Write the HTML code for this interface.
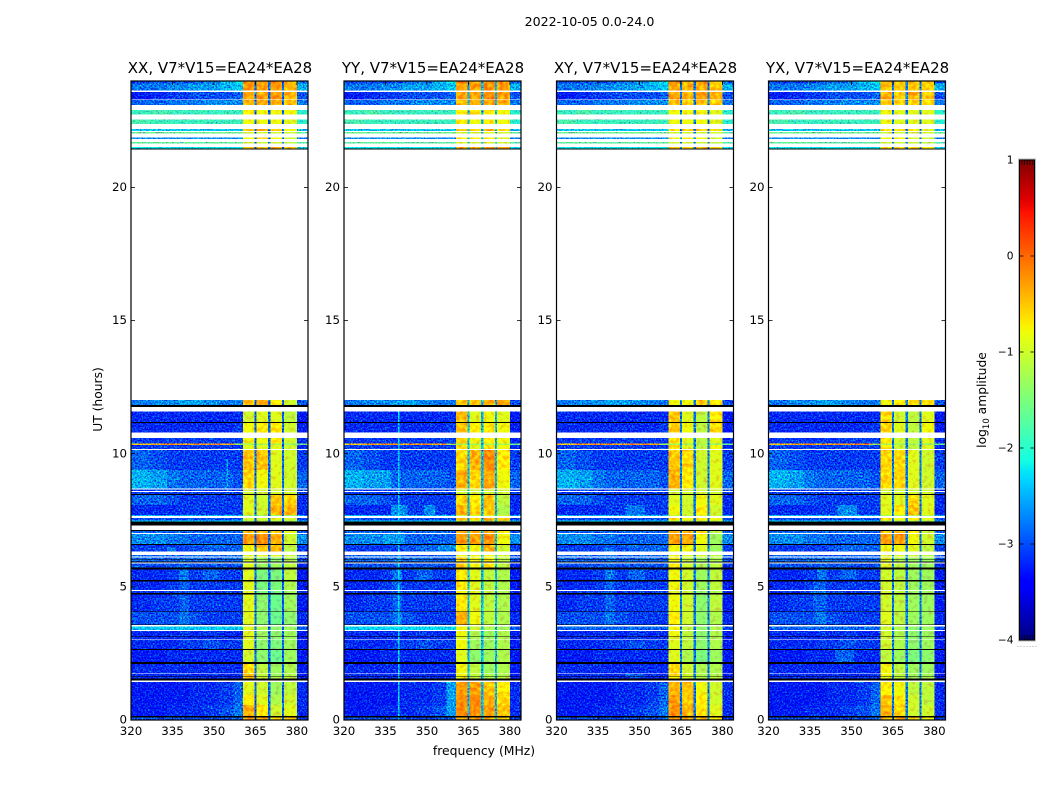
<!DOCTYPE html>
<html>
<head>
<meta charset="utf-8">
<title>2022-10-05 0.0-24.0</title>
<style>
html,body{margin:0;padding:0;background:#fff;}
svg{display:block;}
text{font-family:"DejaVu Sans","Liberation Sans",sans-serif;fill:#000;}
</style>
</head>
<body>
<svg id="figure" xmlns="http://www.w3.org/2000/svg" width="1050" height="800" viewBox="0 0 1050 800">
  <defs>
    <filter id="speckle" x="0" y="0" width="1" height="1" color-interpolation-filters="sRGB">
      <feTurbulence type="fractalNoise" baseFrequency="0.62" numOctaves="2" seed="7" result="raw"/>
      <feColorMatrix in="raw" type="matrix" values="0 0 0 0 0.5  1 0 0 0 0  0 0.6 0 0 0.2  0 0 0 0 1" result="noise"/>
      <feComposite in="SourceGraphic" in2="noise" operator="arithmetic" k1="0" k2="1" k3="1.7" k4="-0.85" result="mix"/>
      <feComposite in="mix" in2="SourceAlpha" operator="in"/>
    </filter>
    <filter id="speckle-soft" x="0" y="0" width="1" height="1" color-interpolation-filters="sRGB">
      <feTurbulence type="fractalNoise" baseFrequency="0.25" numOctaves="2" seed="11" result="raw"/>
      <feColorMatrix in="raw" type="matrix" values="0 0 0 0 0.5  1 0 0 0 0  0 0 0 0 0.5  0 0 0 0 1" result="noise"/>
      <feComposite in="SourceGraphic" in2="noise" operator="arithmetic" k1="0" k2="1" k3="0.7" k4="-0.35" result="mix"/>
      <feComposite in="mix" in2="SourceAlpha" operator="in"/>
    </filter>
    <linearGradient id="jet-gradient" x1="0" y1="1" x2="0" y2="0"></linearGradient>
  </defs>
  <text x="589.5" y="26" font-size="12.6" text-anchor="middle">2022-10-05 0.0-24.0</text>
  <text transform="translate(102 399.5) rotate(-90)" font-size="12.3" text-anchor="middle">UT (hours)</text>
  <text x="484" y="755" font-size="12.4" text-anchor="middle">frequency (MHz)</text>
  <text transform="translate(986 400) rotate(-90)" font-size="12.3" text-anchor="middle">log<tspan font-size="8.5" dy="3">10</tspan><tspan dy="-3"> amplitude</tspan></text>
  <g id="panels"></g>
  <g id="colorbar"></g>
</svg>
<script>
// ---- chart data -----------------------------------------------------------
const panelTitles = ['XX, V7*V15=EA24*EA28','YY, V7*V15=EA24*EA28','XY, V7*V15=EA24*EA28','YX, V7*V15=EA24*EA28'];
const xTicks = [320,335,350,365,380];
const yTicks = [0,5,10,15,20];
const colorTicks = [-4,-3,-2,-1,0,1];
const colorLabels = ['\u22124','\u22123','\u22122','\u22121','0','1'];

// time-row edges in hours (top to bottom); states: d = data, w = no data (white), b = flagged zero (black)
const rowEdges = [24,23.91,23.64,23.59,23.31,23.28,23.10,22.91,22.75,22.56,22.39,22.20,22.13,22.08,22.03,21.87,21.83,21.71,21.66,21.53,21.46,21.43,
 12.02,11.83,11.76,11.59,11.19,11.16,10.79,10.59,10.39,10.33,10.18,10.14,9.39,8.70,8.65,8.61,8.56,8.49,8.45,8.08,7.70,7.66,7.59,7.49,7.45,7.31,7.14,
 7.09,7.02,6.99,6.61,6.57,6.32,6.19,6.15,6.11,6.05,6.02,5.95,5.91,5.87,5.72,5.66,5.26,5.21,4.88,4.85,4.77,4.72,4.08,4.06,3.59,3.56,3.52,3.38,3.34,3.14,3.12,3.05,3.02,
 2.66,2.63,2.17,2.10,1.75,1.72,1.66,1.63,1.55,1.49,1.43,0.94,0.56,0.15,0.10,0];
const rowStates = ['d','d','w','d','w','d','w','d','w','d','w','d','w','d','w','d','w','d','w','d','b','w',
 'd','b','w','d','b','d','w','d','d','d','w','d','d','w','d','w','d','b','d','d','d','w','d','d','b','w','b',
 'd','w','d','b','d','w','d','w','d','b','d','b','w','d','b','d','b','d','w','d','b','d','b','d','b','w','d','w','d','b','d','w','d',
 'b','d','b','d','w','d','b','d','b','w','d','d','d','b','d'];

// off-band frequency columns (MHz edges) then the one column above the receiver bands
const lowEdges = [320,327,333,337.5,341,346,352,357,360.5];
const tailEdges = [380,384];
const bandEdges = [[360.5,364.6],[365.4,369.6],[370.4,374.6],[375.4,380]];
const gapEdges = [[364.6,365.4],[369.6,370.4],[374.6,375.4]];
const gapLevels = [-2.9,-2.5,-2.8,-2.8];

// log10 amplitude per data row, shared off-band structure
const lowLevels = [
[-3.1,-3.0,-3.0,-3.0,-2.9,-2.8,-2.5,-2.2,-2.9],[-2.8,-2.8,-2.7,-2.7,-2.6,-2.6,-2.5,-2.4,-2.5],[-3.3,-3.2,-3.1,-3.1,-3.0,-3.0,-3.0,-2.9,-3.0],
[-2.9,-2.9,-2.8,-2.8,-2.8,-2.7,-2.7,-2.7,-2.8],[-1.9,-1.8,-1.9,-1.9,-1.9,-1.9,-1.9,-1.9,-2.0],[-1.8,-1.9,-1.9,-1.9,-1.9,-1.9,-1.9,-1.9,-2.0],
[-2.4,-2.4,-2.4,-2.4,-2.4,-2.4,-2.4,-2.4,-2.5],[-1.6,-1.6,-1.6,-1.6,-1.6,-1.6,-1.6,-1.6,-1.7],[-2.7,-2.7,-2.7,-2.7,-2.7,-2.7,-2.7,-2.7,-2.8],
[-1.7,-1.7,-1.7,-1.7,-1.7,-1.7,-1.7,-1.7,-1.8],[-2.2,-2.2,-2.2,-2.2,-2.2,-2.2,-2.2,-2.2,-2.3],[-2.8,-2.7,-2.7,-2.6,-2.6,-2.7,-2.8,-2.8,-3.0],
[-3.2,-3.2,-3.2,-3.2,-3.2,-3.2,-3.2,-3.2,-3.3],[-3.2,-3.2,-3.2,-3.2,-3.2,-3.2,-3.2,-3.1,-3.3],[-3.1,-3.1,-3.1,-3.1,-3.1,-3.1,-3.1,-3.1,-3.2],
[-0.5,-0.3,-0.2,-0.3,-0.3,-0.2,-0.3,-1.3,-1.6],[-3.1,-3.1,-3.1,-3.1,-3.1,-3.1,-3.1,-3.1,-3.2],[-2.9,-3.0,-3.1,-3.1,-3.1,-3.1,-3.1,-3.1,-3.1],
[-2.5,-2.6,-2.8,-2.9,-2.9,-2.9,-2.9,-3.0,-2.9],[-3.1,-3.1,-3.1,-3.1,-3.1,-3.1,-3.1,-3.1,-3.1],[-3.1,-3.1,-3.1,-3.1,-3.1,-3.1,-3.1,-3.1,-3.1],
[-2.9,-2.9,-3.0,-3.1,-3.1,-3.1,-3.1,-3.1,-3.2],[-3.2,-3.2,-3.2,-3.1,-3.1,-3.1,-3.1,-3.1,-3.2],[-2.5,-2.5,-2.5,-2.5,-2.5,-2.5,-2.5,-2.5,-2.6],
[-3.0,-3.0,-3.0,-3.0,-3.0,-3.0,-3.0,-3.0,-3.1],[-2.3,-2.3,-2.3,-2.3,-2.3,-2.3,-2.3,-2.3,-2.4],[-2.9,-2.9,-2.9,-2.9,-2.9,-2.9,-2.9,-2.9,-3.0],
[-2.7,-2.7,-2.8,-2.8,-2.9,-2.9,-2.9,-2.9,-2.7],[-3.1,-3.1,-3.1,-3.1,-3.0,-2.9,-2.9,-2.9,-3.1],[-2.9,-2.9,-2.9,-2.9,-2.9,-2.9,-2.9,-2.9,-3.0],
[-2.9,-2.9,-2.9,-2.9,-2.9,-2.9,-2.9,-2.9,-3.0],[-2.9,-2.9,-2.9,-2.8,-2.9,-2.9,-2.9,-2.9,-3.0],[-3.0,-3.0,-3.0,-2.9,-3.0,-3.0,-3.0,-3.0,-3.2],
[-3.2,-3.2,-3.1,-2.8,-3.1,-2.9,-3.1,-3.1,-3.3],[-3.2,-3.2,-3.1,-2.9,-3.1,-3.1,-3.1,-3.1,-3.3],[-3.1,-3.1,-3.1,-3.0,-3.1,-3.1,-3.1,-3.1,-3.2],
[-3.2,-3.1,-3.1,-2.9,-3.1,-3.1,-3.1,-3.1,-3.3],[-3.0,-3.0,-3.0,-2.8,-3.0,-3.1,-3.1,-3.1,-3.2],[-2.9,-2.9,-2.9,-2.9,-2.9,-2.9,-2.9,-2.9,-3.0],
[-3.2,-3.2,-3.2,-3.1,-3.2,-3.1,-3.2,-3.2,-3.3],[-3.2,-3.2,-3.2,-3.2,-3.2,-3.2,-3.2,-3.2,-3.3],[-3.2,-3.2,-3.2,-3.1,-3.1,-3.0,-3.1,-3.1,-3.3],
[-3.3,-3.3,-3.2,-3.2,-3.2,-3.2,-3.2,-3.2,-3.3],[-3.2,-3.2,-3.2,-3.2,-3.2,-3.2,-3.2,-3.2,-3.3],[-3.2,-3.2,-3.2,-3.2,-3.2,-3.2,-3.2,-3.2,-3.3],
[-3.2,-3.2,-3.2,-3.2,-3.2,-3.2,-3.2,-3.2,-3.3],[-3.3,-3.3,-3.3,-3.3,-3.2,-3.2,-3.1,-2.9,-3.2],[-3.3,-3.3,-3.3,-3.3,-3.2,-3.2,-3.1,-2.9,-3.2],
[-3.3,-3.3,-3.2,-3.2,-3.2,-3.1,-3.0,-2.8,-3.2],[-3.0,-3.0,-3.0,-3.0,-3.0,-3.0,-3.0,-2.9,-3.1]];

// log10 amplitude per data row, one value per receiver band
const bandXX = [
[-.1,-.4,-.2,-.4],[-.3,-.3,-.3,-.4],[-.3,-.3,-.3,-.4],[-.4,-.4,-.4,-.5],[-.7,-.8,-.8,-.8],[-.8,-.8,-.8,-.9],[-.5,-.4,-.6,-.8],[-1,-1,-1,-1],[-.8,-.7,-.8,-1],[-1,-1,-1,-1.1],
[-.5,-.5,-.4,-.5],[-.5,-.3,-.7,-1],[-1,-.9,-.9,-1.1],[-.8,-.7,-.7,-1],[-.8,-.8,-.7,-1],[-1.3,-1.3,-1.2,-1.4],[-.9,-.9,-.9,-1],[-.5,-.5,-.9,-1],[-.6,-.8,-.9,-1],[-1,-1,-1,-1],
[-1,-1,-1,-1],[-.9,-1,-.5,-.6],[-.9,-1,-.4,-.4],[-1.3,-1.3,-1.3,-1.3],[-1,-1,-.9,-1],[-1.3,-1.3,-1.3,-1.3],[-.4,-.5,-.5,-.9],[-.3,-.2,-.4,-1],[-.8,-.5,-.4,-1.1],[-.9,-.9,-.9,-1],
[-1,-1.3,-1.4,-1.2],[-1,-1.3,-1.4,-1.2],[-.9,-1.3,-1.3,-1.1],[-.9,-1.5,-1.5,-1.1],[-.9,-1.5,-1.5,-1.2],[-.9,-1.5,-1.6,-1.3],[-.9,-1.4,-1.6,-1.3],[-.9,-1.4,-1.6,-1.4],[-.9,-1.2,-1.4,-1.3],[-.9,-1.3,-1.4,-1.3],
[-.9,-1.3,-1.4,-1.3],[-.9,-1.4,-1.5,-1.3],[-1,-1.4,-1.6,-1.3],[-.6,-1.1,-1.3,-1.2],[-.5,-1.1,-1.3,-1.2],[-.6,-1,-1.2,-1.1],[-.9,-1,-1.3,-1.1],[-.7,-.9,-1.2,-1],[-.4,-.7,-1,-.9],[-.3,-.4,-.6,-.5]];
const bandYY = [
[-.1,-.3,-.2,-.2],[-.3,-.3,-.2,-.3],[-.3,-.3,-.2,-.3],[-.4,-.4,-.3,-.4],[-.7,-.7,-.7,-.8],[-.7,-.8,-.7,-.8],[-.5,-.5,-.4,-.6],[-1,-1,-.9,-1],[-.7,-.7,-.7,-.9],[-.9,-1,-.9,-1],
[-.3,-.4,-.2,-.3],[-.5,-.5,-.4,-.3],[-.5,-.9,-.8,-.9],[-.5,-.7,-.7,-.8],[-.6,-.8,-.7,-.8],[-1.3,-1.3,-1.2,-1.3],[-.6,-.9,-.7,-.8],[-.6,-.4,-.2,-.7],[-.4,-.6,-.3,-.8],[-1,-1,-1,-1],
[-1,-1,-1,-1],[-.6,-.7,-.5,-1.1],[-.4,-.6,-.5,-1.2],[-1,-1,-.9,-1],[-.5,-.6,-.3,-.5],[-1.2,-1.2,-1.2,-1.2],[-.4,-.4,-.3,-.7],[-.3,-.3,-.2,-.8],[-.7,-.8,-.4,-1],[-.8,-.8,-.8,-1],
[-.6,-.8,-.7,-1.1],[-.6,-.8,-.7,-1.1],[-.5,-.8,-.7,-1.1],[-.7,-.9,-1.1,-1.2],[-.7,-.9,-1.1,-1.2],[-.8,-.9,-1.1,-1.2],[-.7,-.9,-1.1,-1.2],[-.4,-.8,-1.1,-1.2],[-.8,-1,-1.2,-1.3],[-.8,-1.2,-1.3,-1.2],
[-.9,-1.2,-1.3,-1.2],[-.8,-1.3,-1.3,-1.2],[-.9,-1.4,-1.3,-1.2],[-.8,-1.1,-1.3,-1.2],[-.8,-1.1,-1.2,-1.2],[-.8,-1.1,-1.2,-1.1],[-.3,-.3,-.5,-.7],[-.2,-.2,-.4,-.6],[-.2,-.2,-.3,-.5],[-.3,-.3,-.4,-.6]];
const bandXY = [
[-.1,-.5,-.2,-.5],[-.4,-.4,-.4,-.5],[-.3,-.4,-.3,-.4],[-.5,-.5,-.5,-.5],[-.8,-.8,-.8,-.9],[-.8,-.8,-.8,-.9],[-.6,-.5,-.6,-.8],[-1,-1,-1,-1],[-.8,-.8,-.8,-1],[-1,-1,-1,-1.1],
[-.5,-.6,-.5,-.6],[-.8,-.8,-.5,-.7],[-.5,-.9,-1.1,-.7],[-.5,-.8,-1.1,-.6],[-.7,-.9,-1.1,-.9],[-1.3,-1.3,-1.2,-1.4],[-.6,-.9,-1.1,-.8],[-.5,-.6,-1,-.9],[-.4,-.7,-1,-.9],[-1,-1,-1,-1],
[-1,-1,-1,-1],[-.9,-1,-.8,-.9],[-.8,-1,-.7,-1],[-1.1,-1.1,-1,-1.1],[-.6,-.8,-.7,-.8],[-1.2,-1.2,-1.2,-1.2],[-.4,-.5,-.6,-1.1],[-.3,-.3,-.8,-1.3],[-.8,-.8,-.9,-1.3],[-.8,-.9,-.9,-1.1],
[-.8,-1.1,-1.3,-1.2],[-.8,-1.1,-1.3,-1.2],[-.7,-1,-1.2,-1.1],[-.8,-1,-1.3,-1.1],[-.8,-1,-1.3,-1.1],[-.9,-1,-1.4,-1.2],[-.8,-1,-1.4,-1.1],[-.7,-1,-1.4,-1.2],[-.8,-1.1,-1.4,-1.2],[-.8,-1.1,-1.4,-1.2],
[-.9,-1.1,-1.4,-1.2],[-.9,-1.1,-1.4,-1.2],[-.9,-1.2,-1.5,-1.3],[-.6,-1,-1.2,-1.2],[-.6,-1,-1.2,-1.2],[-.7,-1,-1.2,-1.1],[-.4,-.5,-.8,-1],[-.3,-.5,-.7,-1],[-.2,-.4,-.7,-.9],[-.3,-.3,-.5,-.7]];
const bandYX = [
[-.4,-.6,-.4,-.5],[-.5,-.5,-.5,-.6],[-.4,-.5,-.4,-.5],[-.5,-.6,-.6,-.6],[-.8,-.9,-.9,-.9],[-.8,-.9,-.9,-.9],[-.6,-.6,-.7,-.9],[-1,-1,-1,-1],[-.8,-.8,-.9,-1],[-1,-1,-1,-1.1],
[-.6,-.6,-.6,-.7],[-.8,-.7,-.6,-.7],[-.6,-1,-1.1,-.9],[-.6,-.9,-1.1,-.8],[-.7,-1,-1.1,-.9],[-1.3,-1.3,-1.3,-1.4],[-.7,-1,-1.1,-.9],[-.6,-.6,-.9,-1],[-.6,-.6,-.9,-1],[-1,-1,-1,-1],
[-1,-1,-1,-1],[-.9,-.9,-.6,-.9],[-.9,-.7,-.5,-.9],[-1.2,-1.2,-1.2,-1.2],[-.7,-.8,-.7,-.9],[-1.3,-1.3,-1.3,-1.3],[-.5,-.5,-.7,-1],[-.3,-.3,-.8,-1],[-.8,-.8,-.9,-1.1],[-.9,-.9,-1,-1.1],
[-.9,-1.2,-1.3,-1.3],[-.9,-1.2,-1.3,-1.3],[-.9,-1.1,-1.3,-1.3],[-1,-1.1,-1.3,-1.3],[-1,-1.1,-1.3,-1.3],[-1,-1.1,-1.3,-1.3],[-1,-1.1,-1.3,-1.3],[-.9,-1.1,-1.3,-1.3],[-1,-1.2,-1.4,-1.3],[-1,-1.2,-1.4,-1.3],
[-1,-1.2,-1.4,-1.3],[-1,-1.2,-1.4,-1.3],[-1.1,-1.3,-1.5,-1.4],[-.8,-1.1,-1.3,-1.3],[-.8,-1.1,-1.3,-1.3],[-.9,-1.1,-1.3,-1.2],[-.7,-.8,-1.1,-1.1],[-.5,-.7,-1,-1.1],[-.4,-.6,-1,-1],[-.4,-.4,-.7,-.8]];
const bandLevels = [bandXX,bandYY,bandXY,bandYX];

// panel-specific off-band features: panel, freq from, freq to, hour top, hour bottom, level
const featurePanels = [1,1,1,1,1,1,2,3,3,0,1,0,1,3,3,2,0,2];
const featureFreqFrom = [337,349,357,339.6,328,334,345,345,336,354.5,354,320,320,337,344,345,333,337];
const featureFreqTo = [343,353,360.5,340.1,337,342,352,352,341,355,360.5,360.5,360.5,341,351,352,336,341];
const featureHourTop = [8.08,8.08,1.43,11.59,9.39,6.99,8.08,8.08,5.21,9.8,6.57,3.52,3.52,4.06,2.63,1.75,6.5,6.5];
const featureHourBottom = [7.70,7.70,0.15,0,8.70,6.61,7.70,7.70,4.08,8.5,6.32,3.38,3.38,3.59,2.17,1.6,6.32,6.32];
const featureLevels = [-2.7,-2.7,-2.6,-2.3,-2.6,-2.6,-2.8,-2.7,-2.9,-2.6,-2.7,-2.4,-2.3,-2.8,-2.9,-2.9,-2.8,-2.8];

// ---- scales ---------------------------------------------------------------
const panelLefts = [131,344,556.5,768.5];
const panelWidth = 177;
const plotTop = 81, plotBottom = 720;
const freqMin = 320, freqMax = 384, hourMax = 24, levelMin = -4, levelMax = 1;
function xScale(panel,f){return panelLefts[panel]+(f-freqMin)/(freqMax-freqMin)*panelWidth;}
function yScale(h){return plotBottom-h/hourMax*(plotBottom-plotTop);}
function colorY(v){return 640-(v-levelMin)/(levelMax-levelMin)*480;}
function lerpChannel(pts,t){
  if(t<=pts[0][0])return pts[0][1];
  for(let i=1;i<pts.length;i++){if(t<=pts[i][0]){const a=pts[i-1],b=pts[i];return a[1]+(b[1]-a[1])*(t-a[0])/(b[0]-a[0]);}}
  return pts[pts.length-1][1];
}
function jet(v){
  const t=Math.max(0,Math.min(1,(v-levelMin)/(levelMax-levelMin)));
  const r=lerpChannel([[0,0],[.35,0],[.66,1],[.89,1],[1,.5]],t);
  const g=lerpChannel([[0,0],[.125,0],[.375,1],[.64,1],[.91,0],[1,0]],t);
  const b=lerpChannel([[0,.5],[.11,1],[.34,1],[.65,0],[1,0]],t);
  return 'rgb('+Math.round(r*255)+','+Math.round(g*255)+','+Math.round(b*255)+')';
}
const NS='http://www.w3.org/2000/svg';
function add(parent,tag,attrs,txt){
  const el=document.createElementNS(NS,tag);
  for(const k in attrs)el.setAttribute(k,attrs[k]);
  if(txt!==undefined)el.textContent=txt;
  parent.appendChild(el);
  return el;
}
function cell(parent,panel,f0,f1,hTop,hBottom,level){
  const x0=xScale(panel,f0),x1=xScale(panel,f1),y0=yScale(hTop),y1=yScale(hBottom);
  const r=add(parent,'rect',{x:x0.toFixed(2),y:y0.toFixed(2),width:(x1-x0).toFixed(2),height:(y1-y0).toFixed(2),fill:jet(level),'shape-rendering':'crispEdges'});
  
  
  return r;
}

// ---- draw panels ----------------------------------------------------------
const panelsRoot=document.getElementById('panels');
panelTitles.forEach(function(title,p){
  const g=add(panelsRoot,'g',{});
  
  
  const left=panelLefts[p],right=left+panelWidth;

  const lowG=add(g,'g',{filter:'url(#speckle)'});
  
  
  const bandG=add(g,'g',{filter:'url(#speckle-soft)'});
  
  
  const flagG=add(g,'g',{});
  
  

  let d=0;
  rowStates.forEach(function(state,i){
    const hTop=rowEdges[i],hBottom=rowEdges[i+1];
    if(state==='b'){
      const fr=add(flagG,'rect',{x:left,y:yScale(hTop).toFixed(2),width:panelWidth,height:(yScale(hBottom)-yScale(hTop)).toFixed(2),fill:'#000','shape-rendering':'crispEdges'});
      
      
    }
    if(state!=='d')return;
    const low=lowLevels[d],bands=bandLevels[p][d];
    for(let c=0;c<lowEdges.length-1;c++)cell(lowG,p,lowEdges[c],lowEdges[c+1],hTop,hBottom,low[c]);
    cell(lowG,p,tailEdges[0],tailEdges[1],hTop,hBottom,low[lowEdges.length-1]);
    featurePanels.forEach(function(fp,k){
      if(fp!==p)return;
      const t=Math.min(hTop,featureHourTop[k]),b=Math.max(hBottom,featureHourBottom[k]);
      if(t>b)cell(lowG,p,featureFreqFrom[k],featureFreqTo[k],t,b,featureLevels[k]);
    });
    bandEdges.forEach(function(e,c){cell(bandG,p,e[0],e[1],hTop,hBottom,bands[c]);});
    gapEdges.forEach(function(e){cell(lowG,p,e[0],e[1],hTop,hBottom,gapLevels[p]);});
    d++;
  });

  // frame
  const frame=add(g,'rect',{x:left,y:plotTop,width:panelWidth,height:plotBottom-plotTop,fill:'none',stroke:'#000','stroke-width':1.2});
  
  

  // ticks and labels
  xTicks.forEach(function(f){
    const x=xScale(p,f);
    const t1=add(g,'line',{x1:x,x2:x,y1:plotBottom,y2:plotBottom-4,stroke:'#000','stroke-width':.8});
    
    
    const t2=add(g,'line',{x1:x,x2:x,y1:plotTop,y2:plotTop+4,stroke:'#000','stroke-width':.8});
    
    
    const lb=add(g,'text',{x:x,y:plotBottom+15,'font-size':11.8,'text-anchor':'middle'},String(f));
    
    
  });
  yTicks.forEach(function(h){
    const y=yScale(h);
    const t1=add(g,'line',{x1:left,x2:left+4,y1:y,y2:y,stroke:'#000','stroke-width':.8});
    
    
    const t2=add(g,'line',{x1:right,x2:right-4,y1:y,y2:y,stroke:'#000','stroke-width':.8});
    
    
    const lb=add(g,'text',{x:left-4,y:y+3.5,'font-size':11.8,'text-anchor':'end'},String(h));
    
    
  });
  const tt=add(g,'text',{x:left+panelWidth/2+0.5,y:73,'font-size':15,'text-anchor':'middle'},title);
  
  
});

// ---- colorbar -------------------------------------------------------------
const grad=document.getElementById('jet-gradient');
for(let i=0;i<=64;i++){
  const s=add(grad,'stop',{offset:(i/64).toFixed(4),'stop-color':jet(levelMin+(levelMax-levelMin)*i/64)});
}
const cb=document.getElementById('colorbar');
const cbLeft=1019.5,cbRight=1034.5,cbTop=colorY(levelMax),cbBottom=colorY(levelMin);
const cbOuter=add(cb,'rect',{x:cbLeft-1,y:cbTop-1,width:cbRight-cbLeft+2,height:cbBottom-cbTop+2,fill:'none',stroke:'#bbb','stroke-width':1});


const cbBar=add(cb,'rect',{x:cbLeft,y:cbTop,width:cbRight-cbLeft,height:cbBottom-cbTop,fill:'url(#jet-gradient)',stroke:'#000','stroke-width':1});


colorTicks.forEach(function(v,i){
  const y=colorY(v);
  if(v>levelMin&&v<levelMax){
    const a=add(cb,'line',{x1:cbLeft,x2:cbLeft+4,y1:y,y2:y,stroke:'#000','stroke-width':.8});
    
    
    const b=add(cb,'line',{x1:cbRight,x2:cbRight-4,y1:y,y2:y,stroke:'#000','stroke-width':.8});
    
    
  }
  const lb=add(cb,'text',{x:1013.5,y:y+3.5,'font-size':10.6,'text-anchor':'end'},colorLabels[i]);
  
  
});
[0,1,2,3,4].forEach(function(i){
  const x=1022+i*2.6;
  const a=add(cb,'line',{x1:x,x2:x,y1:cbTop,y2:cbTop+5,stroke:'#000','stroke-width':.7});
  
  
  const b=add(cb,'line',{x1:x,x2:x,y1:cbBottom,y2:cbBottom-5,stroke:'#000','stroke-width':.7});
  
  
});
[0,1,2,3,4,5,6].forEach(function(i){
  const dot=add(cb,'rect',{x:1017.5+i*3,y:646,width:1,height:1,fill:'#aaa'});
  
  
});
</script>
</body>
</html>
